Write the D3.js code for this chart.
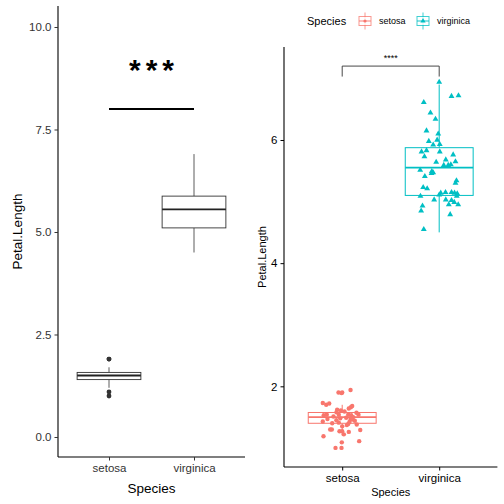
<!DOCTYPE html>
<html><head><meta charset="utf-8">
<script src="https://cdn.jsdelivr.net/npm/d3@7"></script>
<style>body{margin:0;background:#fff}svg{display:block;font-family:"Liberation Sans",Arial,sans-serif}</style>
</head><body><svg id="c" width="504" height="504"></svg>
<script>
const categories = ["setosa","virginica"];
const colors = ["#F8766D","#00BFC4"];
// box stats: [lowerWhisker, Q1, median, Q3, upperWhisker]
const boxStats = [[1.2,1.4,1.5,1.575,1.7],[4.5,5.1,5.55,5.875,6.9]];
const leftOutliers = [[1.9,1.9,1.0,1.1],[]];
const leftYTicks = [0,2.5,5,7.5,10];
const rightYTicks = [2,4,6];
const sigLevel = 8;          // left significance line value
const sigLabelLeft = "***";
const sigLabelRight = "****";
const bracketTop = 7.2, bracketEnd = 7.03;
// jittered points (right panel): values and x offsets (category units)
const setosaVals = [1.94,1.90,1.90,1.89,1.73,1.70,1.72,1.62,1.61,1.66,1.68,1.64,1.58,1.59,1.57,1.54,1.53,1.54,1.51,1.54,1.54,1.53,1.50,1.47,1.49,1.47,1.46,1.43,1.40,1.41,1.39,1.42,1.37,1.30,1.30,1.27,1.27,1.26,1.29,1.22,1.19,1.11,1.00,1.00,1.09,1.44,1.48,1.38,1.45,1.35];
const setosaJit = [0.086,-0.038,0.0,-0.007,-0.2,-0.165,-0.134,-0.052,-0.014,0.089,0.103,0.068,-0.059,0.024,0.147,0.168,-0.19,-0.159,-0.09,-0.035,0.062,0.093,0.113,-0.152,0.041,0.086,0.103,-0.2,-0.103,-0.035,0.062,0.075,0.048,-0.107,-0.124,-0.028,0.0,0.068,0.186,0.017,-0.193,0.175,-0.069,-0.007,-0.004,0.13,-0.02,0.15,-0.06,0.0];
const virginicaVals = [6.94,6.71,6.72,6.61,6.44,6.34,6.15,6.10,6.00,5.98,5.92,5.93,5.81,5.83,5.81,5.76,5.73,5.68,5.64,5.65,5.59,5.59,5.60,5.51,5.49,5.47,5.46,5.41,5.34,5.30,5.23,5.21,5.14,5.15,5.15,5.14,5.13,5.09,5.11,5.09,5.03,5.03,5.02,4.95,4.99,4.95,4.93,4.85,4.79,4.55];
const virginicaJit = [0.0,0.127,0.199,-0.159,-0.09,-0.038,-0.131,-0.01,-0.021,-0.107,-0.062,0.006,-0.182,-0.131,0.006,0.144,-0.152,0.068,-0.031,0.168,0.047,0.093,0.12,-0.196,-0.076,-0.062,-0.079,-0.148,0.178,0.168,-0.165,-0.124,0.016,0.065,0.127,0.158,0.186,-0.193,0.0,0.181,-0.052,0.068,0.127,0.099,0.155,0.196,-0.172,-0.186,0.113,-0.159];

const svg = d3.select("#c");
const axisCol = "#000", tickCol = "#333", textCol = "#333";

// ---------- LEFT PANEL ----------
(function(){
  const L = 58, R = 245, T = 6, B = 457;
  const x = d3.scalePoint().domain(categories).range([L,R]).padding(0.6);
  const y = d3.scaleLinear().domain([-0.488,10.512]).range([B,T]);
  const g = svg.append("g");
  const bw = x.step()*0.75;
  const fmt = d3.format(".1f");
  const ya = d3.axisLeft(y).tickValues(leftYTicks).tickFormat(fmt).tickSizeOuter(0).tickSize(3.5).tickPadding(3);
  const yg = g.append("g").attr("transform",`translate(${L},0)`).call(ya);
  const xa = d3.axisBottom(x).tickSizeOuter(0).tickSize(3.5).tickPadding(3);
  const xg = g.append("g").attr("transform",`translate(0,${B})`).call(xa);
  [yg,xg].forEach(a=>{
    a.select(".domain").attr("stroke",axisCol).attr("stroke-width",1.1);
    a.selectAll(".tick line").attr("stroke",tickCol).attr("stroke-width",1);
    a.selectAll(".tick text").attr("fill",textCol).attr("font-size",11.5).attr("font-family","Liberation Sans, Arial, sans-serif");
  });
  yg.select(".domain").attr("d",`M0,${B}V${T}`);
  xg.select(".domain").attr("d",`M${L},0H${R}`);
  categories.forEach((c,i)=>{
    const s = boxStats[i], cx = x(c);
    g.append("line").attr("x1",cx).attr("x2",cx).attr("y1",y(s[0])).attr("y2",y(s[1])).attr("stroke","#333").attr("stroke-width",0.8);
    g.append("line").attr("x1",cx).attr("x2",cx).attr("y1",y(s[3])).attr("y2",y(s[4])).attr("stroke","#333").attr("stroke-width",0.8);
    g.append("rect").attr("x",cx-bw/2).attr("width",bw).attr("y",y(s[3])).attr("height",y(s[1])-y(s[3])).attr("fill","#fff").attr("stroke","#333").attr("stroke-width",0.9);
    g.append("line").attr("x1",cx-bw/2).attr("x2",cx+bw/2).attr("y1",y(s[2])).attr("y2",y(s[2])).attr("stroke","#222").attr("stroke-width",1.8);
    leftOutliers[i].forEach(v=>g.append("circle").attr("cx",cx).attr("cy",y(v)).attr("r",2.4).attr("fill","#333"));
  });
  g.append("line").attr("x1",x("setosa")).attr("x2",x("virginica")).attr("y1",y(sigLevel)).attr("y2",y(sigLevel)).attr("stroke","#000").attr("stroke-width",1.8);
  g.append("text").attr("x",(x("setosa")+x("virginica"))/2 + 2.5).attr("y",y(sigLevel)-29).attr("text-anchor","middle")
    .attr("font-size",30).attr("font-weight","bold").attr("letter-spacing",5).attr("fill","#000").text(sigLabelLeft);
  g.append("text").attr("transform",`translate(17,${(T+B)/2}) rotate(-90)`).attr("text-anchor","middle").attr("dy","0.35em")
    .attr("font-size",13.5).attr("fill","#000").text("Petal.Length");
  g.append("text").attr("x",(L+R)/2).attr("y",488).attr("text-anchor","middle").attr("dy","0.35em")
    .attr("font-size",13.5).attr("fill","#000").text("Species");
})();

// ---------- RIGHT PANEL ----------
(function(){
  const L = 284, R = 497.4, T = 47, B = 467;
  const x = d3.scalePoint().domain(categories).range([L,R]).padding(0.6);
  const y = d3.scaleLinear().domain([0.69,7.51]).range([B,T]);
  const g = svg.append("g");
  const bw = x.step()*0.7;
  const ya = d3.axisLeft(y).tickValues(rightYTicks).tickFormat(d3.format("d")).tickSizeOuter(0).tickSize(3.5).tickPadding(3);
  const yg = g.append("g").attr("transform",`translate(${L},0)`).call(ya);
  const xa = d3.axisBottom(x).tickSizeOuter(0).tickSize(3.5).tickPadding(3);
  const xg = g.append("g").attr("transform",`translate(0,${B})`).call(xa);
  [yg,xg].forEach(a=>{
    a.select(".domain").attr("stroke",axisCol).attr("stroke-width",1.1);
    a.selectAll(".tick line").attr("stroke",axisCol).attr("stroke-width",1);
    a.selectAll(".tick text").attr("fill","#000").attr("font-size",11.5).attr("font-family","Liberation Sans, Arial, sans-serif");
  });
  yg.select(".domain").attr("d",`M0,${B}V${T}`);
  xg.select(".domain").attr("d",`M${L},0H${R}`);
  const vals = [setosaVals, virginicaVals], jits = [setosaJit, virginicaJit];
  categories.forEach((c,i)=>{
    const s = boxStats[i], cx = x(c), col = colors[i];
    g.append("line").attr("x1",cx).attr("x2",cx).attr("y1",y(s[0])).attr("y2",y(s[1])).attr("stroke",col).attr("stroke-width",1);
    g.append("line").attr("x1",cx).attr("x2",cx).attr("y1",y(s[3])).attr("y2",y(s[4])).attr("stroke",col).attr("stroke-width",1);
    g.append("rect").attr("x",cx-bw/2).attr("width",bw).attr("y",y(s[3])).attr("height",y(s[1])-y(s[3])).attr("fill","#fff").attr("stroke",col).attr("stroke-width",1);
    g.append("line").attr("x1",cx-bw/2).attr("x2",cx+bw/2).attr("y1",y(s[2])).attr("y2",y(s[2])).attr("stroke",col).attr("stroke-width",1.8);
  });
  categories.forEach((c,i)=>{
    const cx = x(c), col = colors[i];
    vals[i].forEach((v,k)=>{
      const px = cx + jits[i][k]*x.step(), py = y(v);
      if(i===0) g.append("circle").attr("cx",px).attr("cy",py).attr("r",2.2).attr("fill",col);
      else g.append("path").attr("d",d3.symbol(d3.symbolTriangle,15)()).attr("transform",`translate(${px},${py})`).attr("fill",col);
    });
  });
  // bracket
  const x1 = x("setosa"), x2 = x("virginica");
  g.append("path").attr("d",`M${x1},${y(bracketEnd)}V${y(bracketTop)}H${x2}V${y(bracketEnd)}`).attr("fill","none").attr("stroke","#333").attr("stroke-width",0.9);
  g.append("text").attr("x",(x1+x2)/2).attr("y",y(bracketTop)-5).attr("text-anchor","middle").attr("font-size",9).attr("fill","#000").text(sigLabelRight);
  g.append("text").attr("transform",`translate(262,${(T+B)/2}) rotate(-90)`).attr("text-anchor","middle").attr("dy","0.35em")
    .attr("font-size",11).attr("fill","#000").text("Petal.Length");
  g.append("text").attr("x",(L+R)/2).attr("y",492).attr("text-anchor","middle").attr("dy","0.35em")
    .attr("font-size",11).attr("fill","#000").text("Species");
  // legend
  const lg = g.append("g");
  lg.append("text").attr("x",307).attr("y",21).attr("dy","0.35em").attr("font-size",11).attr("fill","#000").text("Species");
  const keyX = [358,416], labX = [379,437];
  categories.forEach((c,i)=>{
    const kx = keyX[i], col = colors[i], kc = kx+7;
    lg.append("line").attr("x1",kc).attr("x2",kc).attr("y1",12.5).attr("y2",29.5).attr("stroke",col).attr("stroke-width",1).attr("opacity",0.75);
    lg.append("rect").attr("x",kx+1).attr("y",16.5).attr("width",12).attr("height",9).attr("fill","#fff").attr("stroke",col).attr("stroke-width",1).attr("opacity",0.75);
    lg.append("line").attr("x1",kx+1).attr("x2",kx+13).attr("y1",21).attr("y2",21).attr("stroke",col).attr("stroke-width",1.2).attr("opacity",0.75);
    if(i===0) lg.append("circle").attr("cx",kc).attr("cy",21).attr("r",1.6).attr("fill",col);
    else lg.append("path").attr("d",d3.symbol(d3.symbolTriangle,12)()).attr("transform",`translate(${kc},21)`).attr("fill",col);
    lg.append("text").attr("x",labX[i]).attr("y",21).attr("dy","0.35em").attr("font-size",9).attr("fill","#000").text(c);
  });
})();
</script></body></html>
